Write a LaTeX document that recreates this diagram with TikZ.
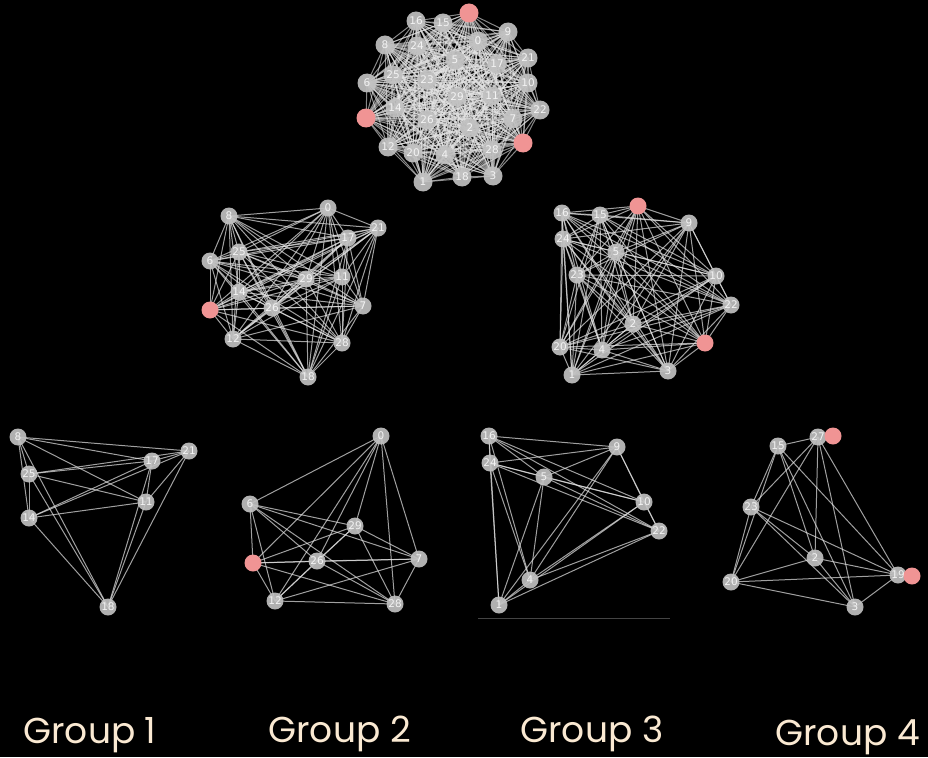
\documentclass[tikz,border=0pt]{standalone}
\usepackage{fontspec}
\setmainfont{Poppins}
\newfontfamily\numfont{DejaVu Sans}
\usepackage{xcolor}
\usetikzlibrary{positioning}
\definecolor{bgcolor}{RGB}{0,0,0}
\definecolor{vtxcolor}{RGB}{192,192,192}
\definecolor{linkcolor}{RGB}{228,228,228}
\definecolor{hlcolor}{RGB}{240,148,148}
\definecolor{captioncolor}{RGB}{250,233,210}
\pgfdeclarelayer{bg}
\pgfdeclarelayer{links}
\pgfsetlayers{bg,links,main}

\begin{document}
\begin{tikzpicture}[
    x=1pt, y=-1pt,
    vtx/.style={
        circle, fill=vtxcolor, fill opacity=0.92, text opacity=1,
        minimum size=17pt, inner sep=0pt,
        font=\numfont\fontsize{10.5}{10.5}\selectfont, text=white!80!vtxcolor
    },
    bigvtx/.style={vtx, minimum size=19pt},
    hl/.style={vtx, fill=hlcolor, fill opacity=1, text opacity=0},
    bighl/.style={hl, minimum size=19pt},
    link/.style={draw=linkcolor, line width=1pt, opacity=0.7},
    denselink/.style={draw=linkcolor, line width=1pt, opacity=0.6},
    caption/.style={font=\fontsize{36}{36}\selectfont, text=captioncolor, anchor=base west}
]

% Background
\begin{pgfonlayer}{bg}
\fill[bgcolor] (0,0) rectangle (928,757);
\end{pgfonlayer}
\useasboundingbox (0,0) rectangle (928,757);

% Full graph (top)
\foreach \n/\x/\y/\s [count=\i] in {
    16/416/21/bigvtx, 15/443/23/bigvtx, 27/469/13/bighl, 9/508/32/bigvtx,
    0/478/41/bigvtx, 8/385/45/bigvtx, 24/417/46/bigvtx, 5/455/60/bigvtx,
    17/497/64/bigvtx, 21/528/58/bigvtx, 25/393/75/bigvtx, 6/367/83/bigvtx,
    23/427/80/bigvtx, 10/528/83/bigvtx, 29/457/97/bigvtx, 11/492/96/bigvtx,
    14/395/108/bigvtx, 22/540/110/bigvtx, 13/366/118/bighl, 26/427/120/bigvtx,
    7/513/119/bigvtx, 2/470/128/bigvtx, 19/523/143/bighl, 12/388/147/bigvtx,
    28/492/150/bigvtx, 20/413/153/bigvtx, 4/445/155/bigvtx, 1/423/182/bigvtx,
    18/462/177/bigvtx, 3/493/176/bigvtx}
    \node[\s] (top-\i) at (\x,\y) {\n};

% Split, left half
\foreach \n/\x/\y/\s [count=\i] in {
    8/229/216/vtx, 0/328/208/vtx, 21/378/228/vtx, 17/348/238/vtx,
    25/239/252/vtx, 6/210/261/vtx, 29/306/279/vtx, 11/342/277/vtx,
    14/239/292/vtx, 13/210/310/hl, 26/272/308/vtx, 7/363/306/vtx,
    12/233/339/vtx, 28/342/343/vtx, 18/308/377/vtx}
    \node[\s] (left-\i) at (\x,\y) {\n};

% Split, right half
\foreach \n/\x/\y/\s [count=\i] in {
    16/562/213/vtx, 15/600/215/vtx, 27/638/206/hl, 9/689/223/vtx,
    24/563/239/vtx, 5/616/252/vtx, 23/577/275/vtx, 10/716/276/vtx,
    22/731/305/vtx, 2/633/324/vtx, 19/705/343/hl, 20/560/347/vtx,
    4/602/350/vtx, 1/572/375/vtx, 3/668/371/vtx}
    \node[\s] (right-\i) at (\x,\y) {\n};

% Group 1
\foreach \n/\x/\y [count=\i] in {
    8/18/437, 21/189/451, 17/152/461, 25/29/474, 11/146/502, 14/29/518, 18/108/607}
    \node[vtx] (ga-\i) at (\x,\y) {\n};

% Group 2
\foreach \n/\x/\y/\s [count=\i] in {
    0/381/436/vtx, 6/250/504/vtx, 29/355/526/vtx, 13/253/563/hl,
    26/317/561/vtx, 7/419/559/vtx, 12/275/601/vtx, 28/395/604/vtx}
    \node[\s] (gb-\i) at (\x,\y) {\n};

% Group 3
\foreach \n/\x/\y [count=\i] in {
    16/489/436, 9/617/447, 24/490/463, 5/544/477, 10/644/502, 22/659/531, 4/530/580, 1/499/605}
    \node[vtx] (gc-\i) at (\x,\y) {\n};

% Group 4
\foreach \n/\x/\y [count=\i] in {
    15/778/446, 27/818/437, 23/751/507, 2/815/558, 20/731/582, 19/898/575, 3/855/607}
    \node[vtx] (gd-\i) at (\x,\y) {\n};
\node[hl] (gd-27h) at (833,436) {};
\node[hl] (gd-19h) at (912,576) {};

% Links
\begin{pgfonlayer}{links}
\foreach \i in {1,...,30}
    \foreach \j in {\i,...,30}
        {\ifnum\i<\j \draw[denselink] (top-\i.center) -- (top-\j.center);\fi}
\foreach \g in {left,right}
    \foreach \i in {1,...,15}
        \foreach \j in {\i,...,15}
            {\ifnum\i<\j \draw[link] (\g-\i.center) -- (\g-\j.center);\fi}
\foreach \g/\k in {ga/7,gb/8,gc/8,gd/7}
    \foreach \i in {1,...,\k}
        \foreach \j in {\i,...,\k}
            {\ifnum\i<\j \draw[link] (\g-\i.center) -- (\g-\j.center);\fi}
\draw[linkcolor, opacity=0.3, line width=0.6pt] (478,618) -- (670,618);
\end{pgfonlayer}

% Captions
\node[caption] (cap1) at (20,743) {Group 1};
\node[caption] (cap2) at (265,742) {Group 2};
\node[caption] (cap3) at (517,742) {Group 3};
\node[caption] (cap4) at (772,745) {Group 4};

\end{tikzpicture}
\end{document}
